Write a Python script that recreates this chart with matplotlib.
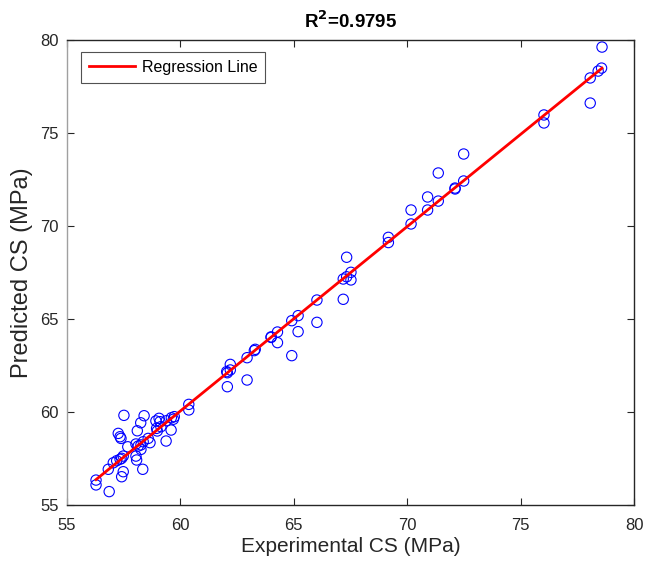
import numpy as np
import matplotlib.pyplot as plt

plt.rcParams['font.family'] = ['Liberation Sans', 'DejaVu Sans']

# Experimental vs predicted compressive strength (MPa)
experimental = [
    78.59, 78.57, 78.42, 78.07, 78.07, 76.03, 76.03, 72.49, 71.37, 72.49,
    72.11, 72.11, 70.90, 71.37, 70.17, 70.90, 70.17,
    69.17, 69.17, 67.33, 67.18, 67.33, 67.52, 67.52, 67.18, 66.02, 66.02,
    65.19, 64.91, 65.19, 64.91, 64.28, 64.00, 64.00, 64.28, 63.30, 63.26,
    62.94, 62.94, 62.20, 62.20, 62.07, 62.04, 62.07,
    60.37, 60.37, 59.73, 59.60, 59.69, 59.06, 58.92, 59.10, 59.38, 59.59,
    58.95, 59.14, 58.98, 59.37, 58.40, 58.25, 58.10, 57.51, 57.26, 57.34,
    57.38, 57.68, 58.04, 58.14, 58.26, 58.36, 58.58, 58.66, 58.26, 58.04,
    58.07, 58.34, 57.48, 57.41, 57.34, 57.19, 57.04, 56.82, 57.48, 57.41,
    56.28, 56.28, 56.86,
]
predicted = [
    79.62, 78.49, 78.33, 77.96, 76.61, 75.97, 75.54, 73.87, 72.85, 72.42,
    72.04, 71.99, 71.56, 71.34, 70.86, 70.86, 70.11,
    69.39, 69.11, 68.32, 67.15, 67.27, 67.51, 67.10, 66.06, 66.02, 64.82,
    65.18, 64.91, 64.32, 63.03, 64.30, 64.01, 64.04, 63.73, 63.37, 63.30,
    62.92, 61.72, 62.56, 62.26, 62.11, 62.17, 61.36,
    60.41, 60.11, 59.75, 59.69, 59.61, 59.66, 59.52, 59.48, 59.53, 59.03,
    59.12, 59.21, 58.98, 58.44, 59.80, 59.42, 58.99, 59.82, 58.85, 58.67,
    58.58, 58.13, 58.28, 58.17, 58.23, 58.40, 58.58, 58.35, 57.99, 57.63,
    57.42, 56.92, 57.63, 57.51, 57.46, 57.38, 57.27, 56.92, 56.79, 56.52,
    56.34, 56.08, 55.72,
]
r2_text = "0.9795"

x = np.array(experimental)
y = np.array(predicted)
slope, intercept = np.polyfit(x, y, 1)
xl = np.array([x.min(), x.max()])

fig = plt.figure(figsize=(6.46, 5.65), dpi=100)
ax = fig.add_axes([67 / 646, 1 - 505 / 565, 567 / 646, 465 / 565])

ax.scatter(x, y, s=55, facecolors='none', edgecolors='#0000ff', linewidths=0.8, zorder=2)
ax.plot(xl, slope * xl + intercept, color='#ff0000', lw=2, label='Regression Line', zorder=3)

ax.set_xlim(55, 80)
ax.set_ylim(55, 80)
ax.set_xticks([55, 60, 65, 70, 75, 80])
ax.set_yticks([55, 60, 65, 70, 75, 80])

for side in ['bottom', 'top', 'right']:
    ax.spines[side].set_color('#262626')
ax.spines['left'].set_color('#a0a0a0')
for s in ax.spines.values():
    s.set_linewidth(1.0)

ax.tick_params(direction='in', length=5, width=0.8, top=True, right=True,
               labelsize=12, colors='#262626')
ax.tick_params(axis='x', pad=9)
ax.tick_params(axis='y', pad=6)

ax.set_xlabel('Experimental CS (MPa)', fontsize=15, color='#262626', labelpad=3)
ax.set_ylabel('Predicted CS (MPa)', fontsize=17, color='#262626', labelpad=5)
ax.set_title('R$^{\\mathbf{2}}$=' + r2_text, fontsize=13.5, fontweight='bold', pad=9)

leg = ax.legend(loc='upper left', fontsize=11.5, frameon=True, fancybox=False,
                edgecolor='#262626', borderpad=0.5, handlelength=2.9,
                handletextpad=0.4, borderaxespad=0,
                bbox_to_anchor=(0.0247, 0.974))
leg.get_frame().set_linewidth(0.8)

fig.savefig('out.png', dpi=100)
